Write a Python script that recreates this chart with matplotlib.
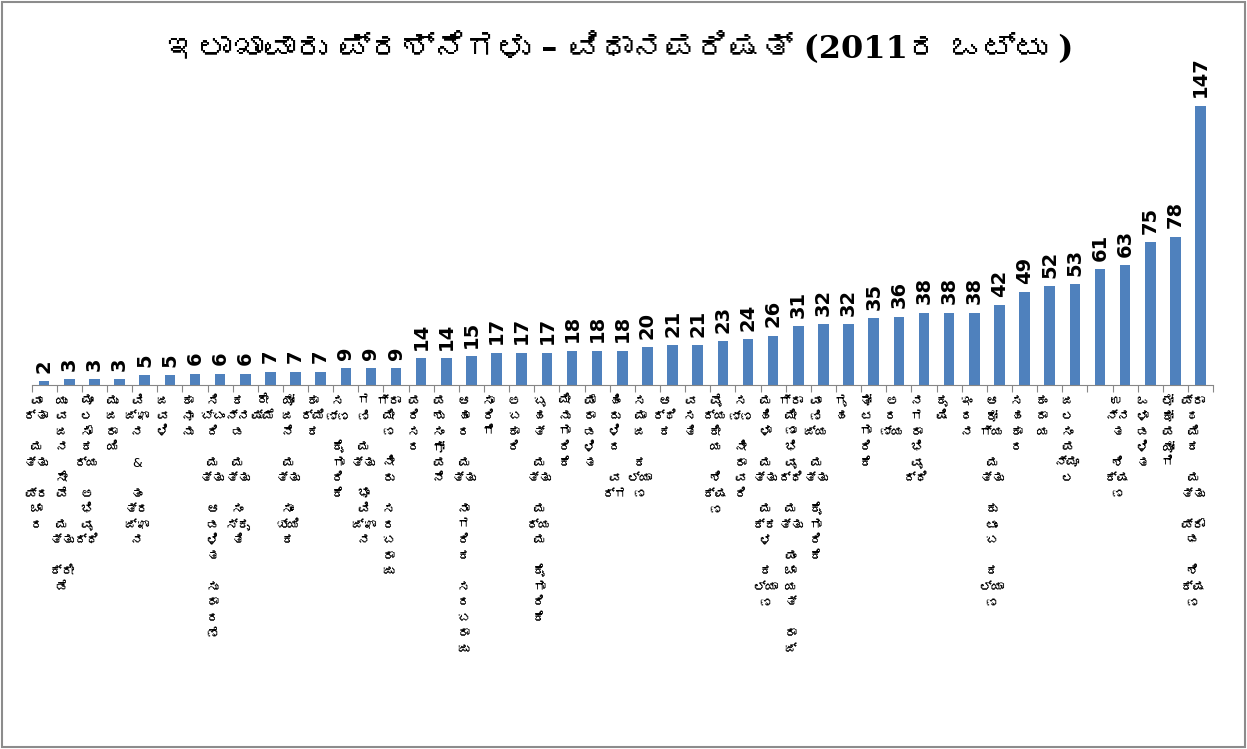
import unicodedata
import numpy as np
import matplotlib
matplotlib.use("Agg")
import matplotlib.pyplot as plt
from matplotlib import font_manager
from matplotlib.ft2font import FT2Font
from matplotlib.patches import Rectangle

# %%
title = "ಇಲಾಖಾವಾರು ಪ್ರಶ್ನೆಗಳು – ವಿಧಾನಪರಿಷತ್ (2011ರ ಒಟ್ಟು )"

departments = [
    "ವಾರ್ತಾ ಮತ್ತು ಪ್ರಚಾರ", "ಯುವಜನ ಸೇವೆ ಮತ್ತು ಕ್ರೀಡೆ", "ಮೂಲಸೌಕರ್ಯ ಅಭಿವೃದ್ಧಿ",
    "ಮುಜರಾಯಿ", "ವಿಜ್ಞಾನ & ತಂತ್ರಜ್ಞಾನ", "ಜವಳಿ", "ಕಾನೂನು",
    "ಸಿಬ್ಬಂದಿ ಮತ್ತು ಆಡಳಿತ ಸುಧಾರಣೆ", "ಕನ್ನಡ ಮತ್ತು ಸಂಸ್ಕೃತಿ", "ರೇಷ್ಮೆ",
    "ಯೋಜನೆ ಮತ್ತು ಸಾಂಖ್ಯಿಕ", "ಕಾರ್ಮಿಕ", "ಸಣ್ಣ ಕೈಗಾರಿಕೆ", "ಗಣಿ ಮತ್ತು ಭೂವಿಜ್ಞಾನ",
    "ಗ್ರಾಮೀಣ ನೀರು ಸರಬರಾಜು", "ಪರಿಸರ", "ಪಶುಸಂಗೋಪನೆ",
    "ಆಹಾರ ಮತ್ತು ನಾಗರಿಕ ಸರಬರಾಜು", "ಸಾರಿಗೆ", "ಅಬಕಾರಿ",
    "ಬೃಹತ್ ಮತ್ತು ಮಧ್ಯಮ ಕೈಗಾರಿಕೆ", "ಮೀನುಗಾರಿಕೆ", "ಪೌರಾಡಳಿತ", "ಹಿಂದುಳಿದ ವರ್ಗ",
    "ಸಮಾಜ ಕಲ್ಯಾಣ", "ಆರ್ಥಿಕ", "ವಸತಿ", "ವೈದ್ಯಕೀಯ ಶಿಕ್ಷಣ", "ಸಣ್ಣ ನೀರಾವರಿ",
    "ಮಹಿಳಾ ಮತ್ತು ಮಕ್ಕಳ ಕಲ್ಯಾಣ", "ಗ್ರಾಮೀಣಾಭಿವೃದ್ಧಿ ಮತ್ತು ಪಂಚಾಯತ್ ರಾಜ್",
    "ವಾಣಿಜ್ಯ ಮತ್ತು ಕೈಗಾರಿಕೆ", "ಗೃಹ", "ತೋಟಗಾರಿಕೆ", "ಅರಣ್ಯ", "ನಗರಾಭಿವೃದ್ಧಿ",
    "ಕೃಷಿ", "ಇಂಧನ", "ಆರೋಗ್ಯ ಮತ್ತು ಕುಟುಂಬ ಕಲ್ಯಾಣ", "ಸಹಕಾರ", "ಕಂದಾಯ",
    "ಜಲಸಂಪನ್ಮೂಲ", "", "ಉನ್ನತ ಶಿಕ್ಷಣ", "ಒಳಾಡಳಿತ", "ಲೋಕೋಪಯೋಗಿ",
    "ಪ್ರಾಥಮಿಕ ಮತ್ತು ಪ್ರೌಢ ಶಿಕ್ಷಣ",
]

questions = [2, 3, 3, 3, 5, 5, 6, 6, 6, 7, 7, 7, 9, 9, 9, 14, 14, 15, 17, 17, 17,
             18, 18, 18, 20, 21, 21, 23, 24, 26, 31, 32, 32, 35, 36, 38, 38, 38,
             42, 49, 52, 53, 61, 63, 75, 78, 147]


# %%
def find_kannada_font():
    for f in font_manager.fontManager.ttflist:
        try:
            if 0x0C95 in FT2Font(f.fname).get_charmap():
                return f.name
        except Exception:
            continue
    return None


def clusters(word):
    # consonant + vowel signs / virama conjuncts stay together
    out = []
    for ch in word:
        joins = unicodedata.category(ch) in ("Mn", "Mc")
        if out and out[-1].endswith("\u0ccd") and 0x0C95 <= ord(ch) <= 0x0CB9:
            joins = True
        if out and joins:
            out[-1] += ch
        else:
            out.append(ch)
    return out


kn_font = find_kannada_font()
fam = ["DejaVu Sans", kn_font] if kn_font else ["DejaVu Sans"]
fam_title = ["DejaVu Serif", kn_font] if kn_font else ["DejaVu Serif"]

# %%
fig = plt.figure(figsize=(12.47, 7.49), dpi=100)
ax = fig.add_axes([0.0253, 0.486, 0.9475, 0.434])

x = np.arange(len(questions))
ax.bar(x, questions, width=0.42, color="#4F81BD")
ax.set_xlim(-0.5, len(questions) - 0.5)
ax.set_ylim(0, 171)

for s in ["top", "right", "left"]:
    ax.spines[s].set_visible(False)
ax.spines["bottom"].set_color("#868686")
ax.set_yticks([])
ax.set_xticks(np.arange(-0.5, len(questions), 1))
ax.set_xticklabels([])
ax.tick_params(axis="x", length=5, color="#868686")

for i, v in enumerate(questions):
    ax.annotate(str(v), (i, v), xytext=(0, 6), textcoords="offset points",
                rotation=90, ha="center", va="bottom", fontsize=14,
                fontweight="bold", family="DejaVu Sans")

for i, name in enumerate(departments):
    if not name:
        continue
    stacked = "\n".join(clusters(name))
    ax.text(i - 0.3, -0.03, stacked, transform=ax.get_xaxis_transform(),
            ha="center", va="top", ma="center", fontsize=9, linespacing=1.25,
            family=fam)

fig.text(0.497, 0.936, title, ha="center", va="center", fontsize=23,
         fontweight="bold", family=fam_title)

fig.patches.append(Rectangle((0.002, 0.003), 0.996, 0.994, transform=fig.transFigure,
                             fill=False, edgecolor="#8c8c8c", lw=1.5))

fig.savefig("out.png", dpi=100)
